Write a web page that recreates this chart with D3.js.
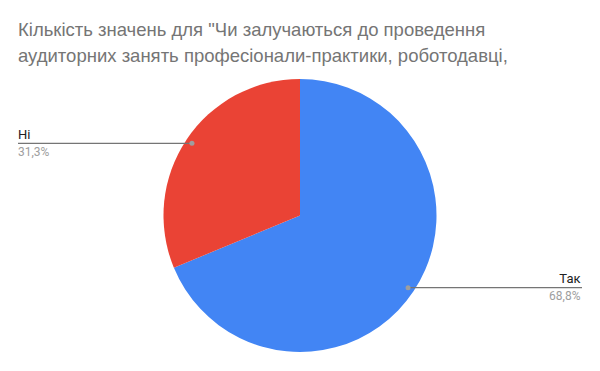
<!DOCTYPE html>
<html>
<head>
<meta charset="utf-8">
<script src="https://cdn.jsdelivr.net/npm/d3@7"></script>
<style>
  body { margin: 0; background: #fff; }
  svg { display: block; font-family: "Liberation Sans", Arial, sans-serif; }
  .lbl { font-family: Roboto, "Liberation Sans", sans-serif; }
</style>
</head>
<body>
<script>
// chart data
let categories = ["Так", "Ні"]
let counts = [22, 10]
let colors = ["#4285f4", "#ea4335"]
let titleLines = [
    "Кількість значень для \"Чи залучаються до проведення",
    "аудиторних занять професіонали-практики, роботодавці,"
]

let width = 600
let height = 371
let cx = 300
let cy = 215.5
let radius = 136.5

let svg = d3.select("body")
            .append("svg")
            .attr("width", width)
            .attr("height", height)

// title
svg.append("g")
    .selectAll("text")
    .data(titleLines)
    .enter()
    .append("text")
    .attr("x", 18)
    .attr("y", (d, i) => 36 + i * 25.5)
    .attr("fill", "#757575")
    .style("font-size", "18.5px")
    .text(d => d)

let total = d3.sum(counts)
let values = categories.map((c, i) => ({name: c, value: counts[i], color: colors[i]}))

let pie = d3.pie()
            .value(d => d.value)
            .sort(null)

let arc = d3.arc()
            .innerRadius(0)
            .outerRadius(radius)

let arcs = pie(values)

let g = svg.append("g")
            .attr("transform", "translate(" + cx + "," + cy + ")")

g.selectAll("path")
    .data(arcs)
    .enter()
    .append("path")
    .attr("d", arc)
    .attr("fill", d => d.data.color)

// labels with leader lines
let fmt = v => (v / total * 100).toFixed(1).replace(".", ",") + "%"
let dotR = radius * 0.952

arcs.forEach(a => {
    let mid = (a.startAngle + a.endAngle) / 2
    let px = cx + dotR * Math.sin(mid)
    let py = cy - dotR * Math.cos(mid)
    let right = Math.sin(mid) > 0
    let endX = right ? 582 : 18

    svg.append("line")
        .attr("x1", px)
        .attr("y1", py)
        .attr("x2", endX)
        .attr("y2", py)
        .attr("stroke", "#757575")
        .attr("stroke-width", 1.2)

    svg.append("circle")
        .attr("cx", px)
        .attr("cy", py)
        .attr("r", 2.5)
        .attr("fill", "#9e9e9e")

    svg.append("text")
        .attr("class", "lbl")
        .attr("x", right ? 580.5 : 18)
        .attr("y", py - 4.5)
        .attr("text-anchor", right ? "end" : "start")
        .attr("fill", "#212121")
        .style("font-size", "13px")
        .text(a.data.name)

    svg.append("text")
        .attr("class", "lbl")
        .attr("x", right ? 580.5 : 18)
        .attr("y", py + 12.5)
        .attr("text-anchor", right ? "end" : "start")
        .attr("fill", "#9e9e9e")
        .style("font-size", "12px")
        .text(fmt(a.data.value))
})
</script>
</body>
</html>
